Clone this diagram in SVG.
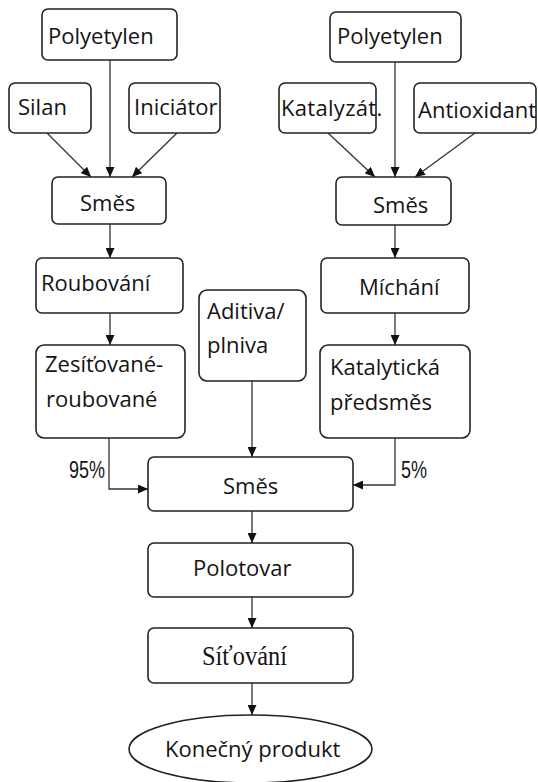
<svg xmlns="http://www.w3.org/2000/svg" width="538" height="782" viewBox="0 0 538 782">
<style>
.box{fill:#fff;stroke:#222;stroke-width:1.6}
.t{font-family:"Open Sans","Noto Sans",sans-serif;font-size:22px;fill:#141414}
.s{font-family:"Liberation Serif",serif;font-size:28px;fill:#141414}
.p{font-family:"Liberation Sans",sans-serif;font-size:24px;fill:#141414}
.c{fill:none;stroke:#333;stroke-width:1.3}
</style>
<defs>
<marker id="ah" markerUnits="userSpaceOnUse" markerWidth="10" markerHeight="9" refX="10" refY="4.5" orient="auto">
<path d="M0,0 L10,4.5 L0,9 z" fill="#111"/>
</marker>
</defs>
<rect width="538" height="782" fill="#fff"/>
<g id="connectors">
<path class="c" d="M110,60 V177" marker-end="url(#ah)"/>
<path class="c" d="M47,133 L91,177" marker-end="url(#ah)"/>
<path class="c" d="M177,133 L132,177" marker-end="url(#ah)"/>
<path class="c" d="M395,62 V177" marker-end="url(#ah)"/>
<path class="c" d="M328,133 L375,177" marker-end="url(#ah)"/>
<path class="c" d="M475,133 L415,177" marker-end="url(#ah)"/>
<path class="c" d="M110,224 V258" marker-end="url(#ah)"/>
<path class="c" d="M110,313 V345" marker-end="url(#ah)"/>
<path class="c" d="M395,225 V258" marker-end="url(#ah)"/>
<path class="c" d="M395,313 V345" marker-end="url(#ah)"/>
<path class="c" d="M109,438 V489 H148" marker-end="url(#ah)"/>
<path class="c" d="M395,438 V485 H353" marker-end="url(#ah)"/>
<path class="c" d="M252,381 V457" marker-end="url(#ah)"/>
<path class="c" d="M252,511 V543" marker-end="url(#ah)"/>
<path class="c" d="M252,597 V628" marker-end="url(#ah)"/>
<path class="c" d="M252,683 V715" marker-end="url(#ah)"/>
<text class="p" x="69" y="478" textLength="36" lengthAdjust="spacingAndGlyphs">95%</text>
<text class="p" x="401" y="478" textLength="26" lengthAdjust="spacingAndGlyphs">5%</text>
</g>
<g id="polyetylen-l"><rect class="box" x="42" y="9" width="135" height="51" rx="6"/><text class="t" x="48" y="44">Polyetylen</text></g>
<g id="silan"><rect class="box" x="9" y="83" width="82" height="50" rx="6"/><text class="t" x="18" y="115">Silan</text></g>
<g id="iniciator"><rect class="box" x="129" y="83" width="91" height="50" rx="6"/><text class="t" x="134" y="115" font-size="20.5">Iniciátor</text></g>
<g id="polyetylen-r"><rect class="box" x="330" y="12" width="131" height="50" rx="6"/><text class="t" x="337" y="44">Polyetylen</text></g>
<g id="katalyzat"><rect class="box" x="279" y="83" width="97" height="50" rx="6"/><text class="t" x="281" y="116" font-size="20" letter-spacing="0.3">Katalyzát.</text></g>
<g id="antioxidant"><rect class="box" x="414" y="83" width="122" height="50" rx="6"/><text class="t" x="418" y="118">Antioxidant</text></g>
<g id="smes-l"><rect class="box" x="52" y="177" width="114" height="47" rx="6"/><text class="t" x="80" y="211">Směs</text></g>
<g id="smes-r"><rect class="box" x="336" y="177" width="115" height="48" rx="6"/><text class="t" x="373" y="213">Směs</text></g>
<g id="roubovani"><rect class="box" x="36" y="258" width="147" height="55" rx="6"/><text class="t" x="41" y="291" font-size="21.5">Roubování</text></g>
<g id="michani"><rect class="box" x="321" y="258" width="148" height="55" rx="6"/><text class="t" x="359" y="295" font-size="21">Míchání</text></g>
<g id="zesitovane"><rect class="box" x="36" y="345" width="149" height="93" rx="8"/><text class="t" x="45" y="372">Zesíťované-</text><text class="t" x="46" y="407">roubované</text></g>
<g id="aditiva"><rect class="box" x="199" y="290" width="107" height="91" rx="8"/><text class="t" x="207" y="319">Aditiva/</text><text class="t" x="207" y="353">plniva</text></g>
<g id="katalyticka"><rect class="box" x="320" y="345" width="150" height="93" rx="8"/><text class="t" x="330" y="375">Katalytická</text><text class="t" x="330" y="410">předsměs</text></g>
<g id="smes"><rect class="box" x="148" y="457" width="205" height="54" rx="6"/><text class="t" x="223" y="494">Směs</text></g>
<g id="polotovar"><rect class="box" x="148" y="543" width="205" height="54" rx="6"/><text class="t" x="193" y="576">Polotovar</text></g>
<g id="sitovani"><rect class="box" x="148" y="628" width="205" height="55" rx="6"/><text class="s" x="202" y="665" textLength="85" lengthAdjust="spacingAndGlyphs">Síťování</text></g>
<g id="konecny-produkt"><ellipse class="box" cx="250.5" cy="749" rx="121.5" ry="34"/><text class="t" x="165" y="757">Konečný produkt</text></g>
</svg>
